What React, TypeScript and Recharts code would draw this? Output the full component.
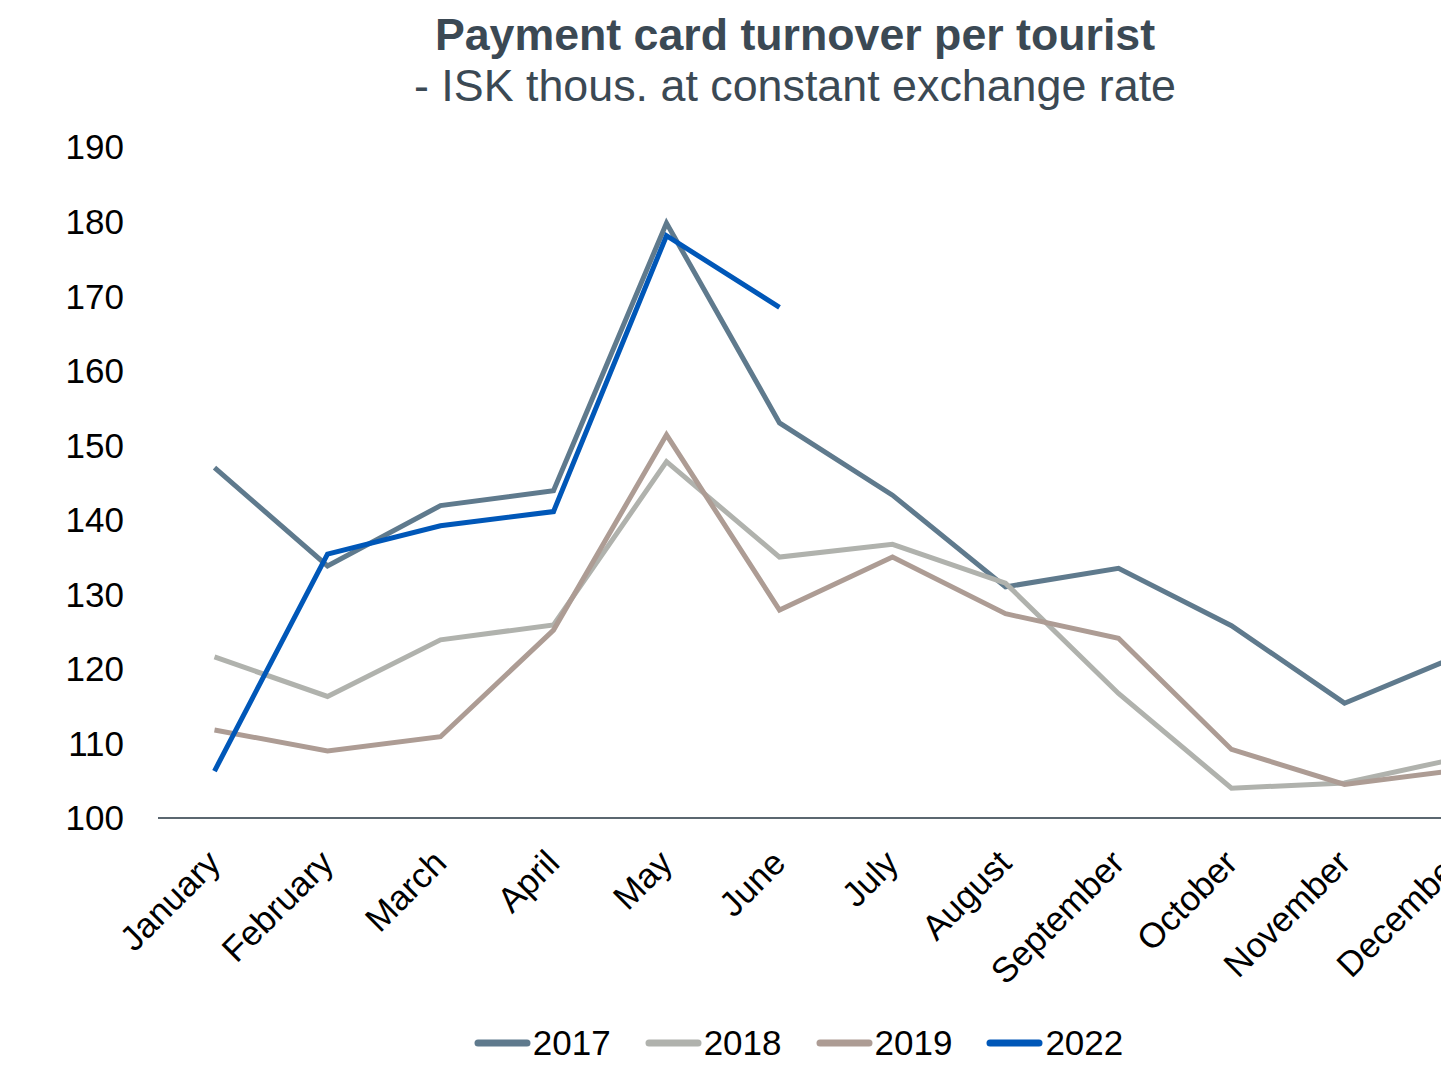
import { LineChart, Line, XAxis, YAxis, Legend } from 'recharts';

const months = [
  'January', 'February', 'March', 'April', 'May', 'June',
  'July', 'August', 'September', 'October', 'November', 'December',
];
const y2017 = [147.0, 133.8, 141.9, 143.9, 179.8, 153.0, 143.3, 131.0, 133.5, 125.8, 115.4, 121.7];
const y2018 = [121.6, 116.3, 123.9, 125.9, 147.8, 135.0, 136.7, 131.5, 116.7, 104.0, 104.7, 108.0];
const y2019 = [111.8, 109.0, 110.9, 125.2, 151.4, 127.9, 135.0, 127.4, 124.1, 109.2, 104.5, 106.4];
const y2022 = [106.3, 135.4, 139.2, 141.1, 178.1, 168.5, null, null, null, null, null, null];
const yTicks = [100, 110, 120, 130, 140, 150, 160, 170, 180, 190];

const series = [
  { key: 'y2017', name: '2017', color: '#5F7A8D' },
  { key: 'y2018', name: '2018', color: '#B0B2AD' },
  { key: 'y2019', name: '2019', color: '#AD9C94' },
  { key: 'y2022', name: '2022', color: '#0057B8' },
];

const data = months.map((m, i) => ({
  month: m,
  y2017: y2017[i],
  y2018: y2018[i],
  y2019: y2019[i],
  y2022: y2022[i],
}));

const FONT = '"Liberation Sans", Arial, sans-serif';

function MonthTick({ x, y, payload }: any) {
  return (
    <g transform={`translate(${x + 8},${y + 47})`}>
      <text x={0} y={0} textAnchor="end" transform="rotate(-45)" fontSize={35} fill="#000" fontFamily={FONT}>
        {payload.value}
      </text>
    </g>
  );
}

function LegendBox() {
  return (
    <div style={{ display: 'flex', justifyContent: 'center', alignItems: 'center', gap: 34, height: 60, fontFamily: FONT }}>
      {series.map((s) => (
        <div key={s.key} style={{ display: 'flex', alignItems: 'center' }}>
          <svg width={57} height={12}>
            <line x1={4} y1={6} x2={53} y2={6} stroke={s.color} strokeWidth={7} strokeLinecap="round" />
          </svg>
          <span style={{ fontSize: 35, color: '#000', marginLeft: 2 }}>{s.name}</span>
        </div>
      ))}
    </div>
  );
}

export default function App() {
  return (
    <div style={{ position: 'absolute', left: 0, top: 0, width: 1441, height: 1073, overflow: 'hidden', background: '#fff' }}>
      <div style={{ position: 'relative', width: 1592, height: 1073 }}>
        <svg width={1592} height={120} style={{ position: 'absolute', left: 0, top: 0 }}>
          <text x={795} y={50} textAnchor="middle" fontSize={44.7} fontWeight="bold" fill="#3B4954" fontFamily={FONT}>
            Payment card turnover per tourist
          </text>
          <text x={795} y={101} textAnchor="middle" fontSize={44.8} fill="#3B4954" fontFamily={FONT}>
            - ISK thous. at constant exchange rate
          </text>
        </svg>
        <LineChart
          width={1592}
          height={1073}
          data={data}
          margin={{ top: 147, right: 78, left: 0, bottom: 0 }}
          style={{ fontFamily: FONT }}
        >
          <XAxis
            dataKey="month"
            padding={{ left: 56.5, right: 56.5 }}
            height={195}
            tickLine={false}
            tickSize={0}
            tickMargin={0}
            axisLine={{ stroke: '#5B6770', strokeWidth: 2 }}
            tick={<MonthTick />}
            interval={0}
          />
          <YAxis
            domain={[100, 190]}
            ticks={yTicks}
            width={158}
            axisLine={false}
            tickLine={false}
            tickSize={0}
            tickMargin={34}
            tick={{ fontSize: 35, fill: '#000', fontFamily: FONT }}
          />
          <Legend
            verticalAlign="bottom"
            height={60}
            wrapperStyle={{ height: 60, left: 0, width: 1597 }}
            content={<LegendBox />}
          />
          {series.map((s) => (
            <Line
              key={s.key}
              type="linear"
              dataKey={s.key}
              name={s.name}
              stroke={s.color}
              strokeWidth={5}
              dot={false}
              activeDot={false}
              isAnimationActive={false}
            />
          ))}
        </LineChart>
      </div>
    </div>
  );
}
